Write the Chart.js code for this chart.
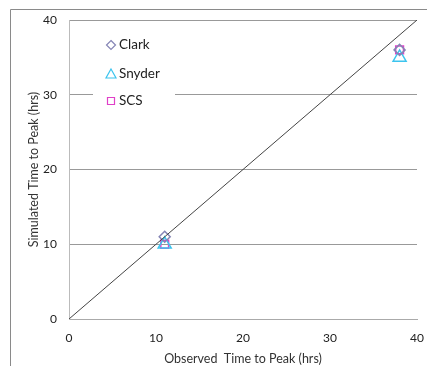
<!DOCTYPE html>
<html>
<head>
<meta charset="utf-8">
<script src="https://cdn.jsdelivr.net/npm/chart.js@4"></script>
<style>
  html, body { margin: 0; padding: 0; background: #fff; }
  #wrap { width: 427px; height: 366px; }
</style>
</head>
<body>
<div id="wrap"><canvas id="peakChart"></canvas></div>
<script>
// observed vs simulated time to peak (hrs)
const observed = [11, 38];
const clark = [11, 36];
const snyder = [10, 35];
const scs = [10, 36];
const lineEnds = [0, 40];
const axisTicks = [0, 10, 20, 30, 40];

const seriesNames = ['Clark', 'Snyder', 'SCS'];
const seriesColors = ['#8585b5', '#3cc4ee', '#e040c8'];
const seriesShapes = ['rectRot', 'triangle', 'rect'];

function pts(xs, ys) {
    return xs.map(function (x, i) { return { x: x, y: ys[i] }; });
}

// outer frame + legend box drawn over the gridlines
const frameAndLegend = {
    id: 'frameAndLegend',
    afterDraw: function (chart) {
        const c = chart.ctx;
        c.save();
        c.strokeStyle = '#8a8a8a';
        c.lineWidth = 1;
        c.beginPath();
        c.moveTo(10.5, 366);
        c.lineTo(10.5, 9.5);
        c.lineTo(427, 9.5);
        c.stroke();

        c.fillStyle = '#fff';
        c.fillRect(93, 30, 82, 80);

        const rows = [45, 74, 101];
        c.font = '13.5px Lato';
        c.textBaseline = 'middle';
        rows.forEach(function (y, i) {
            c.strokeStyle = seriesColors[i];
            c.lineWidth = 1.2;
            c.beginPath();
            if (i === 0) {
                c.moveTo(111, y - 4.5); c.lineTo(115.5, y); c.lineTo(111, y + 4.5); c.lineTo(106.5, y); c.closePath();
            } else if (i === 1) {
                c.moveTo(111, y - 5); c.lineTo(116, y + 4); c.lineTo(106, y + 4); c.closePath();
            } else {
                c.rect(107.5, y - 3.5, 7, 7);
            }
            c.stroke();
            c.fillStyle = '#222';
            c.fillText(seriesNames[i], 119, y);
        });
        c.restore();
    }
};

const ctx = document.getElementById('peakChart');

new Chart(ctx, {
    type: 'scatter',
    data: {
        datasets: [
            {
                label: '1:1',
                type: 'line',
                data: pts(lineEnds, lineEnds),
                borderColor: '#444',
                borderWidth: 1,
                pointRadius: 0,
                fill: false
            },
            {
                label: seriesNames[0],
                data: pts(observed, clark),
                pointStyle: seriesShapes[0],
                pointRadius: 5.5,
                borderColor: seriesColors[0],
                backgroundColor: 'rgba(0,0,0,0)',
                borderWidth: 1.5
            },
            {
                label: seriesNames[1],
                data: pts(observed, snyder),
                pointStyle: seriesShapes[1],
                pointRadius: 7.5,
                borderColor: seriesColors[1],
                backgroundColor: 'rgba(0,0,0,0)',
                borderWidth: 1.5
            },
            {
                label: seriesNames[2],
                data: pts(observed, scs),
                pointStyle: seriesShapes[2],
                pointRadius: 5.5,
                borderColor: seriesColors[2],
                backgroundColor: 'rgba(0,0,0,0)',
                borderWidth: 1.5
            }
        ]
    },
    options: {
        responsive: true,
        maintainAspectRatio: false,
        animation: false,
        layout: { padding: { left: 20, top: 20, right: 10, bottom: 0 } },
        scales: {
            x: {
                type: 'linear',
                min: 0,
                max: 40,
                afterBuildTicks: function (s) { s.ticks = axisTicks.map(function (v) { return { value: v }; }); },
                afterFit: function (s) { s.height = 47; s.paddingLeft = 0; s.paddingRight = 0; },
                grid: { display: false, drawTicks: false },
                border: { display: true, color: '#aaa', width: 1 },
                ticks: { padding: 12, color: '#222', font: { family: 'Lato', size: 12 }, maxRotation: 0 },
                title: {
                    display: true,
                    text: 'Observed  Time to Peak (hrs)',
                    color: '#333',
                    font: { family: 'Lato', size: 12.5 },
                    padding: { top: 0, bottom: 0 }
                }
            },
            y: {
                min: 0,
                max: 40,
                afterBuildTicks: function (s) { s.ticks = axisTicks.map(function (v) { return { value: v }; }); },
                afterFit: function (s) { s.width = 49; s.paddingTop = 0; s.paddingBottom = 0; },
                grid: { color: '#999', drawTicks: false },
                border: { display: true, color: '#bbb', width: 1 },
                ticks: { padding: 12, color: '#222', font: { family: 'Lato', size: 12 } },
                title: {
                    display: true,
                    text: 'Simulated Time to Peak (hrs)',
                    color: '#333',
                    font: { family: 'Lato', size: 12.5 },
                    padding: { top: 6, bottom: 0 }
                }
            }
        },
        plugins: {
            legend: { display: false },
            tooltip: { enabled: false }
        }
    },
    plugins: [frameAndLegend]
});
</script>
</body>
</html>
